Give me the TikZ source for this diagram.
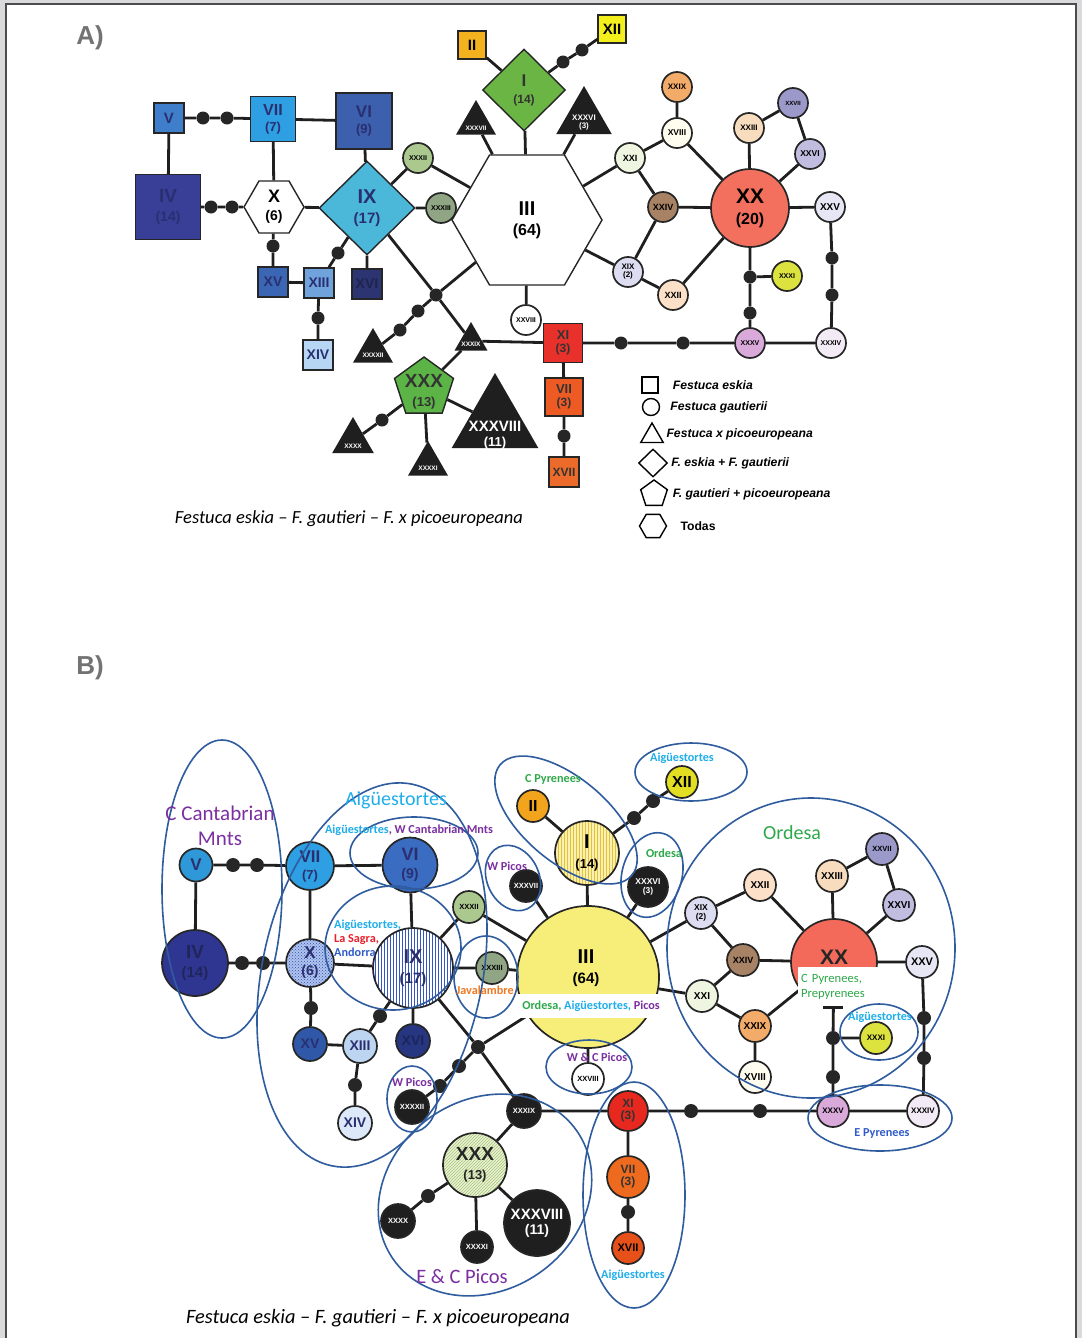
\documentclass[tikz,border=0pt]{standalone}
\usepackage{fontspec}
\setmainfont{Liberation Sans}
\newfontfamily\calfont{Carlito}
\usetikzlibrary{shapes.geometric,patterns,positioning,calc}

\definecolor{pagegray}{HTML}{DADADC}
\definecolor{tdark}{HTML}{2A2F70}
\definecolor{cII}{HTML}{F5B21F}
\definecolor{cXII}{HTML}{F3EF1C}
\definecolor{cI}{HTML}{6BB545}
\definecolor{cIX}{HTML}{4BB8DA}
\definecolor{cVI}{HTML}{3C5FAE}
\definecolor{cVII}{HTML}{2E9FE2}
\definecolor{cV}{HTML}{3F7ECA}
\definecolor{cIV}{HTML}{393E97}
\definecolor{cXV}{HTML}{3A66B4}
\definecolor{cXIII}{HTML}{70A2DB}
\definecolor{cXIV}{HTML}{B6D6F4}
\definecolor{cXVI}{HTML}{2C3471}
\definecolor{cXI}{HTML}{E8312A}
\definecolor{cVIIo}{HTML}{EE5A24}
\definecolor{cXVII}{HTML}{EC6B2A}
\definecolor{cXXX}{HTML}{5CB446}
\definecolor{cXX}{HTML}{F4705E}
\definecolor{cXXV}{HTML}{E6E6F5}
\definecolor{cXXXIV}{HTML}{F2EAF5}
\definecolor{cXXXV}{HTML}{D9A9DA}
\definecolor{cXXXI}{HTML}{DCE23E}
\definecolor{cXXIII}{HTML}{F8DCBE}
\definecolor{cXXVII}{HTML}{9B99C9}
\definecolor{cXXVI}{HTML}{C1BDE1}
\definecolor{cXVIII}{HTML}{FFFCF0}
\definecolor{cXXIX}{HTML}{F3AB6A}
\definecolor{cXXI}{HTML}{EEF5E0}
\definecolor{cXXIV}{HTML}{A78265}
\definecolor{cXIX}{HTML}{DDDDF1}
\definecolor{cXXII}{HTML}{FCE0C8}
\definecolor{cXXXII}{HTML}{ABC98F}
\definecolor{cXXXIII}{HTML}{8FA584}
\definecolor{bV}{HTML}{2F98D8}
\definecolor{bVI}{HTML}{3A6CC2}
\definecolor{bIV}{HTML}{2E3692}
\definecolor{bX}{HTML}{B0C4EE}
\definecolor{dotB}{HTML}{2F4FB0}
\definecolor{stripeB}{HTML}{3555C0}
\definecolor{bXV}{HTML}{2F58A8}
\definecolor{bXIII}{HTML}{BDD5F0}
\definecolor{bXIV}{HTML}{DDE9F8}
\definecolor{bXVI}{HTML}{263680}
\definecolor{bIII}{HTML}{F7EE7A}
\definecolor{bI}{HTML}{FAF0B0}
\definecolor{stripeY}{HTML}{E2C23C}
\definecolor{bII}{HTML}{F2A51C}
\definecolor{bXII}{HTML}{E2DE22}
\definecolor{bXI}{HTML}{E6281E}
\definecolor{bVIIo}{HTML}{EE6A1E}
\definecolor{bXVII}{HTML}{E8501A}
\definecolor{bXXX}{HTML}{EAF2D4}
\definecolor{hatchG}{HTML}{A8C478}
\definecolor{bXX}{HTML}{F46A5A}
\definecolor{ellb}{HTML}{2F5C9E}
\definecolor{tlb}{HTML}{1FAEEA}
\definecolor{tpu}{HTML}{7B2FA0}
\definecolor{tgr}{HTML}{2EA84A}
\definecolor{tre}{HTML}{E8202A}
\definecolor{tor}{HTML}{F07820}
\definecolor{tbl}{HTML}{2F5BC8}

\newcommand\fsz[1]{\fontsize{#1}{#1}\selectfont}

\tikzset{
  edge/.style={line width=2.8pt, black!88},
  dot/.style={circle, fill=black!85, inner sep=0pt, minimum size=13pt},
  sq/.style={rectangle, draw=black!85, line width=1.4pt, inner sep=0pt,
    align=center, font=\bfseries\fsz{14}},
  hap/.style={circle, draw=black!85, line width=1.7pt, inner sep=0pt,
    minimum size=30pt, align=center, font=\bfseries\fsz{9}},
  tri/.style={regular polygon, regular polygon sides=3, fill=black!88,
    inner sep=0pt},
  wlbl/.style={text=white, font=\bfseries\fsz{7}, align=center, inner sep=0pt},
  legtxt/.style={font=\bfseries\itshape\fsz{12.2}, inner sep=0pt},
  region/.style={draw=ellb, line width=1.6pt},
  note/.style={font=\calfont\bfseries\fsz{12.2}, inner sep=0pt},
  bignote/.style={font=\calfont\fsz{20.5}, inner sep=0pt},
}

\begin{document}
\begin{tikzpicture}[x=1pt,y=-1pt]
\useasboundingbox (0,0) rectangle (1082,1338);
\fill[pagegray] (0,0) rectangle (1082,1338);
\fill[white] (6,4) rectangle (1076,1338);
\draw[line width=1.5pt, black!70] (6,1338) -- (6,4) -- (1076,4) -- (1076,1338);

%%%%%%%%%%%%%%%%%%%%%%%%%%%% A)
\node[font=\bfseries\fsz{26}, text=black!55] (labA) at (90,38) {A)};

% squares
\node[sq, fill=cII, minimum size=28pt, font=\bfseries\fsz{15}] (aII) at (472,45) {II};
\node[sq, fill=cXII, minimum size=28pt, font=\bfseries\fsz{15}] (aXII) at (612,29) {XII};
\node[sq, fill=cVI, minimum size=56pt, text=tdark, font=\bfseries\fsz{17}] (aVI) at (364,121) {VI\\{\fsz{13}(9)}};
\node[sq, fill=cVII, minimum size=45pt, text=tdark, font=\bfseries\fsz{16}] (aVII) at (273,119) {VII\\{\fsz{13}(7)}};
\node[sq, fill=cV, minimum size=30pt, text=tdark, font=\bfseries\fsz{15}] (aV) at (169,118) {V};
\node[sq, fill=cIV, minimum size=65pt, text=tdark, font=\bfseries\fsz{19}] (aIV) at (168,207) {IV\\{\fsz{14}(14)}};
\node[sq, fill=cXV, minimum size=30pt, text=tdark] (aXV) at (273,282) {XV};
\node[sq, fill=cXIII, minimum size=30pt, text=tdark] (aXIII) at (319,283) {XIII};
\node[sq, fill=cXIV, minimum size=30pt, text=tdark] (aXIV) at (318,355) {XIV};
\node[sq, fill=cXVI, minimum size=30pt, text=cXVI!70!black] (aXVI) at (367,284) {XVI};
\node[sq, fill=cXI, minimum size=39pt, text=black!80, font=\bfseries\fsz{13}] (aXI) at (563,343) {XI\\{\fsz{12}(3)}};
\node[sq, fill=cVIIo, minimum size=38pt, text=black!80, font=\bfseries\fsz{13}] (aVIIo) at (564,397) {VII\\{\fsz{12}(3)}};
\node[sq, fill=cXVII, minimum size=30pt, text=black!80, font=\bfseries\fsz{12}] (aXVII) at (564,472) {XVII};

% diamonds and hexagons
\node[diamond, draw=black!85, line width=1.4pt, fill=cI, minimum width=83pt, minimum height=82pt,
  inner sep=0pt, align=center, text=black!80, font=\bfseries\fsz{17}] (aI) at (524,90) {I\\{\fsz{12}(14)}};
\node[diamond, draw=black!85, line width=1.4pt, fill=cIX, minimum width=96pt, minimum height=94pt,
  inner sep=0pt, align=center, text=tdark, font=\bfseries\fsz{20}] (aIX) at (367,208) {IX\\{\fsz{15}(17)}};
\node[regular polygon, regular polygon sides=6, draw=black!85, line width=1.4pt, fill=white,
  minimum size=150pt, inner sep=0pt, align=center, font=\bfseries\fsz{20}] (aIII) at (527,220) {III\\{\fsz{16}(64)}};
\node[regular polygon, regular polygon sides=6, draw=black!85, line width=1.4pt, fill=white,
  minimum size=60pt, inner sep=0pt, align=center, font=\bfseries\fsz{18}] (aX) at (274,207) {X\\{\fsz{14}(6)}};
\node[regular polygon, regular polygon sides=5, draw=black!85, line width=1.4pt, fill=cXXX,
  minimum size=62pt, inner sep=0pt] (aXXX) at (424,388) {};
\node[font=\bfseries\fsz{19}, align=center, inner sep=0pt, text=black!80] (aXXXt) at (424,392) {XXX\\{\fsz{13}(13)}};

% triangles
\node[tri, minimum size=46pt] (aXXXVII) at (476,123) {};
\node[wlbl, font=\bfseries\fsz{6.5}] (aXXXVIIt) at (476,128) {XXXVII};
\node[tri, minimum size=64pt] (aXXXVI) at (584,118) {};
\node[wlbl, font=\bfseries\fsz{8}] (aXXXVIt) at (584,123) {XXXVI\\(3)};
\node[tri, minimum size=46pt] (aXXXXII) at (373,351) {};
\node[wlbl, font=\bfseries\fsz{6.5}] (aXXXXIIt) at (373,355) {XXXXII};
\node[tri, minimum size=38pt] (aXXXIX) at (471,341) {};
\node[wlbl, font=\bfseries\fsz{6.5}] (aXXXIXt) at (471,344) {XXXIX};
\node[tri, minimum size=48pt] (aXXXX) at (353,441) {};
\node[wlbl, font=\bfseries\fsz{6.5}] (aXXXXt) at (353,446) {XXXX};
\node[tri, minimum size=46pt] (aXXXXI) at (428,464) {};
\node[wlbl, font=\bfseries\fsz{6.5}] (aXXXXIt) at (428,468) {XXXXI};
\node[tri, minimum size=100pt] (aXXXVIII) at (495,423) {};
\node[wlbl, font=\bfseries\fsz{15}] (aXXXVIIIt) at (495,435) {XXXVIII\\{\fsz{13}(11)}};

% circles
\foreach \n/\x/\y/\c/\f in {XXXII/418/158/cXXXII/7, XXXIII/441/208/cXXXIII/7,
    XXVIII/526/320/white/7, XXXV/750/343/cXXXV/7, XXXIV/831/343/cXXXIV/7,
    XXV/830/207/cXXV/10, XXXI/787/276/cXXXI/7, XXIII/749/128/cXXIII/8,
    XXVII/793/103/cXXVII/6, XXVI/810/154/cXXVI/8.5, XVIII/677/133/cXVIII/8.5,
    XXIX/677/87/cXXIX/8, XXI/630/158/cXXI/9, XXIV/663/207/cXXIV/9, XXII/673/295/cXXII/9}
    \node[hap, fill=\c, font=\bfseries\fsz{\f}] (a\n) at (\x,\y) {\n};
\node[hap, fill=cXIX, font=\bfseries\fsz{8}] (aXIX) at (628,272) {XIX\\(2)};
\node[hap, fill=cXX, minimum size=78pt, font=\bfseries\fsz{21}] (aXX) at (750,208) {XX\\{\fsz{16}(20)}};

% dots
\foreach \n/\x/\y in {1/563/62, 2/582/50, 3/203/118, 4/227/118, 5/211/207, 6/232/207,
    7/273/246, 8/338/253, 9/318/318, 10/418/311, 11/400/330, 12/382/420, 13/564/436,
    14/621/343, 15/683/343, 16/832/295, 17/832/258, 18/750/277, 19/750/313}
    \node[dot] (ad\n) at (\x,\y) {};
\node[dot] (aj) at (436,295) {};

\draw[edge]
    (aII) -- (aI)
    (aI) -- (ad1) -- (ad2) -- (aXII)
    (aI) -- (aIII)
    (aXXXVII) -- (aIII)
    (aXXXVI) -- (aIII)
    (aXXXII) -- (aIII)
    (aXXXII) -- (aIX)
    (aXXXIII) -- (aIX)
    (aXXXIII) -- (aIII)
    (aV) -- (ad3) -- (ad4) -- (aVII) -- (aVI)
    (aV) -- (aIV) -- (ad5) -- (ad6) -- (aX) -- (aIX)
    (aVII) -- (aX)
    (aVI) -- (aIX)
    (aX) -- (ad7) -- (aXV) -- (aXIII) -- (ad8) -- (aIX)
    (aXIII) -- (ad9) -- (aXIV)
    (aIX) -- (aXVI)
    (aIX) -- (aj) -- (aIII)
    (aj) -- (ad10) -- (ad11) -- (aXXXXII)
    (aj) -- (aXXXIX) -- (aXI)
    (aXXXIX) -- (aXXX) -- (ad12) -- (aXXXX)
    (aXXX) -- (aXXXXI)
    (aXXX) -- (aXXXVIII)
    (aIII) -- (aXXVIII)
    (aXI) -- (aVIIo) -- (ad13) -- (aXVII)
    (aXI) -- (ad14) -- (ad15) -- (aXXXV) -- (aXXXIV) -- (ad16) -- (ad17) -- (aXXV) -- (aXX)
    (aXX) -- (ad18) -- (aXXXI)
    (ad18) -- (ad19) -- (aXXXV)
    (aXX) -- (aXXIII) -- (aXXVII) -- (aXXVI) -- (aXX)
    (aXX) -- (aXVIII) -- (aXXIX)
    (aXVIII) -- (aXXI) -- (aIII)
    (aXXI) -- (aXXIV) -- (aXX)
    (aXXIV) -- (aXIX) -- (aIII)
    (aXIX) -- (aXXII) -- (aXX);

% legend
\node[draw, line width=1.4pt, minimum size=16pt, inner sep=0pt] (lg1) at (650,385) {};
\node[legtxt, right=14pt of lg1] (lg1t) {Festuca eskia};
\node[circle, draw, line width=1.4pt, minimum size=17pt, inner sep=0pt] (lg2) at (651,407) {};
\node[legtxt, right=10pt of lg2] (lg2t) {Festuca gautierii};
\node[regular polygon, regular polygon sides=3, draw, line width=1.4pt, minimum size=26pt, inner sep=0pt] (lg3) at (652,436) {};
\node[legtxt, right=6pt of lg3, yshift=2pt] (lg3t) {Festuca x picoeuropeana};
\node[diamond, draw, line width=1.4pt, minimum width=29pt, minimum height=28pt, inner sep=0pt] (lg4) at (653,463) {};
\node[legtxt, right=3pt of lg4] (lg4t) {F. eskia + F. gautierii};
\node[regular polygon, regular polygon sides=5, draw, line width=1.4pt, minimum size=28pt, inner sep=0pt] (lg5) at (654,494) {};
\node[legtxt, right=6pt of lg5] (lg5t) {F. gautieri + picoeuropeana};
\node[regular polygon, regular polygon sides=6, draw, line width=1.4pt, minimum size=27pt, inner sep=0pt] (lg6) at (653,526) {};
\node[legtxt, font=\bfseries\fsz{12.2}, right=13pt of lg6] (lg6t) {Todas};

\node[font=\calfont\itshape\fsz{18.5}] (capA) at (349,519) {Festuca eskia – F. gautieri – F. x picoeuropeana};

%%%%%%%%%%%%%%%%%%%%%%%%%%%% B)
\node[font=\bfseries\fsz{26}, text=black!55] (labB) at (90,668) {B)};

% circles
\node[hap, fill=bV, minimum size=33pt, text=tdark, font=\bfseries\fsz{17}] (bV) at (196,865) {V};
\node[hap, fill=cVII, minimum size=48pt, text=tdark, font=\bfseries\fsz{17}] (bVII) at (310,866) {VII\\{\fsz{13}(7)}};
\node[hap, fill=bVI, minimum size=55pt, text=tdark, font=\bfseries\fsz{18}] (bVI) at (410,865) {VI\\{\fsz{14}(9)}};
\node[hap, fill=bIV, minimum size=66pt, text=tdark!80!black, font=\bfseries\fsz{19}] (bIV) at (195,963) {IV\\{\fsz{15}(14)}};
\node[hap, minimum size=48pt, preaction={fill=bX}, pattern=crosshatch dots, pattern color=dotB,
  text=tdark, font=\bfseries\fsz{17}] (bX) at (310,963) {X\\{\fsz{14}(6)}};
\node[hap, minimum size=80pt, preaction={fill=white}, pattern=vertical lines, pattern color=stripeB,
  text=tdark, font=\bfseries\fsz{20}] (bIX) at (413,968) {IX\\{\fsz{15}(17)}};
\node[hap, fill=bXV, minimum size=34pt, text=tdark, font=\bfseries\fsz{14}] (bXV) at (310,1044) {XV};
\node[hap, fill=bXIII, minimum size=34pt, text=tdark, font=\bfseries\fsz{14}] (bXIII) at (360,1046) {XIII};
\node[hap, fill=bXIV, minimum size=34pt, text=tdark, font=\bfseries\fsz{14}] (bXIV) at (355,1123) {XIV};
\node[hap, fill=bXVI, minimum size=34pt, text=bXVI!70!black, font=\bfseries\fsz{14}] (bXVI) at (413,1041) {XVI};
\node[hap, fill=bIII, minimum size=142pt] (bIII) at (588,977) {};
\node[hap, minimum size=64pt, preaction={fill=bI}, pattern=vertical lines, pattern color=stripeY,
  font=\bfseries\fsz{20}] (bI) at (587,853) {I\\{\fsz{13}(14)}};
\node[hap, fill=bII, minimum size=32pt, font=\bfseries\fsz{16}] (bII) at (533,806) {II};
\node[hap, fill=bXII, minimum size=32pt, font=\bfseries\fsz{16}] (bXII) at (682,782) {XII};
\node[hap, fill=black!88, minimum size=40pt, text=white, font=\bfseries\fsz{8.5}] (bXXXVI) at (648,887) {XXXVI\\(3)};
\node[hap, fill=cXIX, minimum size=32pt, font=\bfseries\fsz{8.5}] (bXIX) at (701,913) {XIX\\(2)};
\node[hap, fill=bXX, minimum size=86pt] (bXX) at (834,962) {};
\node[hap, fill=bXI, minimum size=40pt, text=black!80, font=\bfseries\fsz{12}] (bXI) at (628,1111) {XI\\(3)};
\node[hap, fill=bVIIo, minimum size=42pt, text=black!80, font=\bfseries\fsz{12}] (bVIIo) at (628,1177) {VII\\(3)};
\node[hap, minimum size=64pt, preaction={fill=bXXX}, pattern=north east lines, pattern color=hatchG,
  text=black!85, font=\bfseries\fsz{19}] (bXXX) at (475,1165) {XXX\\{\fsz{13}(13)}};
\node[hap, fill=black!88, minimum size=66pt, text=white, font=\bfseries\fsz{15}] (bXXXVIII) at (537,1223) {XXXVIII\\{\fsz{14}(11)}};

\foreach \n/\x/\y/\c/\f in {XXXII/469/907/cXXXII/7.5, XXXIII/492/968/cXXXIII/7.5,
    XXVIII/588/1079/white/7.5, XXI/702/996/cXXI/10, XXII/760/885/cXXII/10,
    XXIV/743/960/cXXIV/9, XXIX/755/1026/cXXIX/10, XVIII/755/1077/cXVIII/10,
    XXIII/832/876/cXXIII/10, XXVII/882/849/cXXVII/7.5, XXVI/899/905/cXXVI/10,
    XXV/922/962/cXXV/11, XXXI/876/1038/cXXXI/8, XXXV/833/1111/cXXXV/8,
    XXXIV/923/1111/cXXXIV/8, XVII/628/1248/bXVII/11}
    \node[hap, fill=\c, minimum size=32pt, font=\bfseries\fsz{\f}] (b\n) at (\x,\y) {\n};
\foreach \n/\x/\y/\s in {XXXVII/526/886/32, XXXXII/412/1107/34, XXXIX/524/1111/34,
    XXXX/398/1221/34, XXXXI/477/1247/32}
    \node[hap, fill=black!88, minimum size=\s pt, text=white, font=\bfseries\fsz{7.5}] (b\n) at (\x,\y) {\n};

% dots
\foreach \n/\x/\y in {1/233/865, 2/257/865, 3/242/963, 4/263/963, 5/311/1008, 6/380/1016,
    7/355/1085, 8/459/1066, 9/440/1086, 10/634/818, 11/653/801, 12/833/1038, 13/833/1077,
    14/924/1018, 15/924/1058, 16/691/1111, 17/760/1111, 18/628/1212, 19/428/1196}
    \node[dot, minimum size=14pt] (bd\n) at (\x,\y) {};
\node[dot, minimum size=14pt] (bj) at (478,1047) {};

\draw[edge]
    (bV) -- (bd1) -- (bd2) -- (bVII) -- (bVI)
    (bV) -- (bIV) -- (bd3) -- (bd4) -- (bX) -- (bIX)
    (bVII) -- (bX)
    (bVI) -- (bIX)
    (bIX) -- (bXXXII) -- (bIII)
    (bIX) -- (bXXXIII) -- (bIII)
    (bX) -- (bd5) -- (bXV) -- (bXIII) -- (bd6) -- (bIX)
    (bXIII) -- (bd7) -- (bXIV)
    (bIX) -- (bXVI)
    (bIX) -- (bj) -- (bIII)
    (bj) -- (bd8) -- (bd9) -- (bXXXXII)
    (bj) -- (bXXXIX) -- (bXI)
    (bXXXIX) -- (bXXX) -- (bd19) -- (bXXXX)
    (bXXX) -- (bXXXXI)
    (bXXX) -- (bXXXVIII)
    (bIII) -- (bXXVIII)
    (bIII) -- (bI) -- (bII)
    (bI) -- (bd10) -- (bd11) -- (bXII)
    (bXXXVII) -- (bIII)
    (bXXXVI) -- (bIII)
    (bXIX) -- (bIII)
    (bXXI) -- (bIII)
    (bXIX) -- (bXXII) -- (bXX)
    (bXIX) -- (bXXIV) -- (bXX)
    (bXXIV) -- (bXXI) -- (bXXIX) -- (bXX)
    (bXXIX) -- (bXVIII)
    (bXX) -- (bXXIII) -- (bXXVII) -- (bXXVI) -- (bXX)
    (bXX) -- (bXXV) -- (bd14) -- (bd15) -- (bXXXIV) -- (bXXXV)
    (bXI) -- (bd16) -- (bd17) -- (bXXXV) -- (bd13) -- (bd12) -- (bXX)
    (bd12) -- (bXXXI)
    (bXI) -- (bVIIo) -- (bd18) -- (bXVII);

% labels over III and XX
\node[font=\bfseries\fsz{20}, align=center, inner sep=0pt] (bIIIt) at (586,968) {III\\{\fsz{15}(64)}};
\node[fill=white, minimum width=148pt, minimum height=24pt, inner sep=0pt, note]
    (bIIIband) at (591,1006) {\textcolor{tgr}{Ordesa,} \textcolor{tlb}{Aigüestortes,} \textcolor{tpu}{Picos}};
\node[font=\bfseries\fsz{21}, inner sep=0pt, text=black!85] (bXXt) at (834,957) {XX};
\node[fill=white, minimum width=80pt, minimum height=41pt, inner sep=0pt, text width=74pt, align=left,
    text=tgr, font=\calfont\fsz{12.6}] (bXXbox) at (838,987) {C Pyrenees,\\[2pt]Prepyrenees};
\draw[edge] ($(bd12 |- bXXbox.south)+(-10,0)$) -- ($(bd12 |- bXXbox.south)+(10,0)$);

% regions
\draw[region] (222,889) ellipse [x radius=60, y radius=149];
\draw[region, rotate around={-12:(372,975)}] (372,975) ellipse [x radius=110, y radius=195];
\draw[region] (414,853) ellipse [x radius=64, y radius=36];
\draw[region] (393,948) ellipse [x radius=68, y radius=62];
\draw[region] (486,977) ellipse [x radius=32, y radius=41];
\draw[region] (412,1099) ellipse [x radius=25, y radius=33];
\draw[region, rotate around={25:(513,878)}] (513,878) ellipse [x radius=26, y radius=34];
\draw[region, rotate around={-40:(566,820)}] (566,820) ellipse [x radius=86, y radius=42];
\draw[region] (691,772) ellipse [x radius=56, y radius=29];
\draw[region, rotate around={-15:(652,875)}] (652,875) ellipse [x radius=30, y radius=43];
\draw[region] (589,1067) ellipse [x radius=43, y radius=27];
\draw[region] (811,948) ellipse [x radius=144, y radius=150];
\draw[region] (879,1032) ellipse [x radius=39, y radius=28];
\draw[region] (880,1118) ellipse [x radius=72, y radius=33];
\draw[region, rotate around={35:(485,1195)}] (485,1195) ellipse [x radius=112, y radius=95];
\draw[region] (634,1195) ellipse [x radius=51, y radius=113];

% region names
\node[bignote, text=tpu, align=center, font=\calfont\fsz{21}] (nCantab) at (220,826) {C Cantabrian\\[4pt]Mnts};
\node[bignote, text=tlb, font=\calfont\fsz{20}] (nAigBig) at (396,800) {Aigüestortes};
\node[note] (nAigVI) at (409,830) {\textcolor{tlb}{Aigüestortes}\textcolor{tpu}{, W Cantabrian Mnts}};
\node[note, anchor=west, align=left] (nAigIX) at (334,938)
    {\textcolor{tlb}{Aigüestortes,}\\[2pt]\textcolor{tre}{La Sagra,}\\[2pt]\textcolor{tbl}{Andorra}};
\node[note, text=tor] (nJaval) at (485,990) {Javalambre};
\node[note, text=tpu] (nWPicosA) at (412,1082) {W Picos};
\node[note, text=tpu] (nWPicosB) at (507,866) {W Picos};
\node[note, text=tgr] (nCPyr) at (553,779) {C Pyrenees};
\node[note, text=tlb] (nAigXII) at (682,758) {Aigüestortes};
\node[note, text=tgr] (nOrdB) at (664,853) {Ordesa};
\node[note, text=tpu] (nWCPicos) at (597,1057) {W \& C Picos};
\node[bignote, text=tgr, font=\calfont\fsz{20}] (nOrdesa) at (792,833) {Ordesa};
\node[note, text=tlb] (nAigXXXI) at (880,1017) {Aigüestortes};
\node[note, text=tbl] (nEPyr) at (882,1133) {E Pyrenees};
\node[bignote, text=tpu] (nECPicos) at (462,1277) {E \& C Picos};
\node[note, text=tlb] (nAigXI) at (633,1275) {Aigüestortes};

\node[font=\calfont\itshape\fsz{20.4}] (capB) at (378,1318) {Festuca eskia – F. gautieri – F. x picoeuropeana};
\end{tikzpicture}
\end{document}
